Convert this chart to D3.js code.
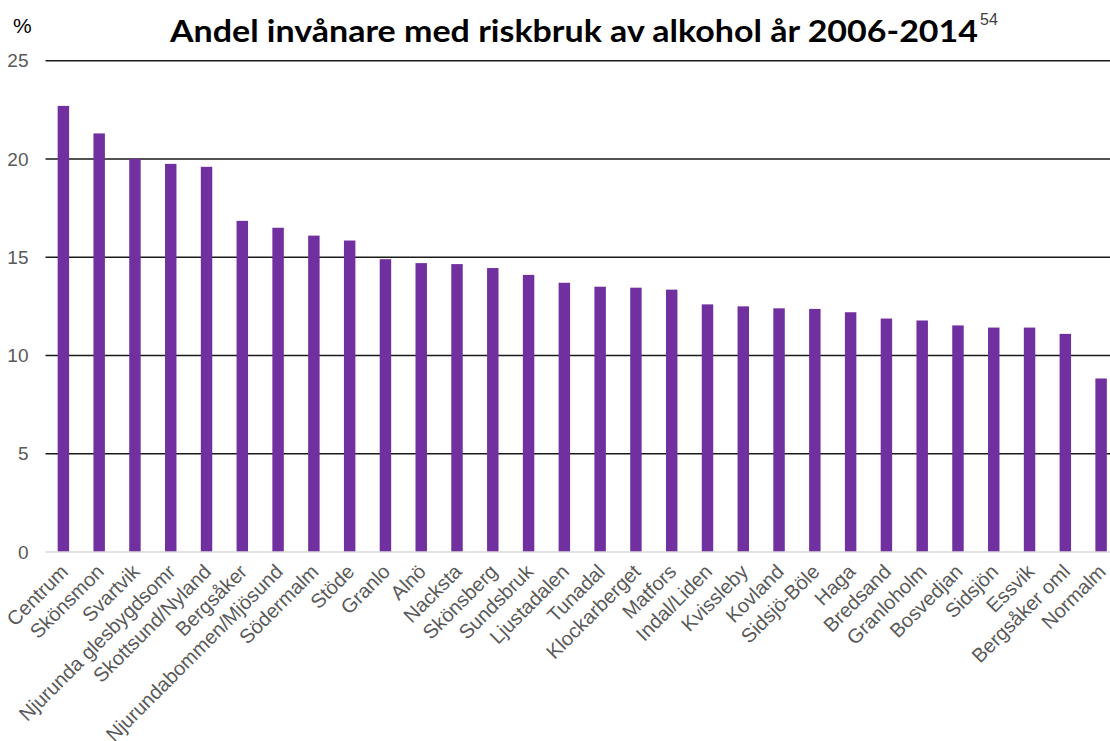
<!DOCTYPE html>
<html>
<head>
<meta charset="utf-8">
<script src="https://cdn.jsdelivr.net/npm/d3@7"></script>
<style>
  body { margin: 0; background: #fff; }
  svg { display: block; }
</style>
</head>
<body>
<div id="chart"></div>
<script>
// Data
const categories = [
  "Centrum", "Skönsmon", "Svartvik", "Njurunda glesbygdsomr", "Skottsund/Nyland",
  "Bergsåker", "Njurundabommen/Mjösund", "Södermalm", "Stöde", "Granlo",
  "Alnö", "Nacksta", "Skönsberg", "Sundsbruk", "Ljustadalen",
  "Tunadal", "Klockarberget", "Matfors", "Indal/Liden", "Kvissleby",
  "Kovland", "Sidsjö-Böle", "Haga", "Bredsand", "Granloholm",
  "Bosvedjan", "Sidsjön", "Essvik", "Bergsåker oml", "Normalm"
];
const values = [
  22.7, 21.3, 20.0, 19.75, 19.6,
  16.85, 16.5, 16.1, 15.85, 14.9,
  14.7, 14.65, 14.45, 14.1, 13.7,
  13.5, 13.45, 13.35, 12.6, 12.5,
  12.4, 12.37, 12.2, 11.88, 11.78,
  11.53, 11.42, 11.42, 11.1, 8.83
];
const yTicks = [0, 5, 10, 15, 20, 25];
const titleText = "Andel invånare med riskbruk av alkohol år 2006-2014";
const footnote = "54";

const width = 1110, height = 741;
const labelFont = "'Liberation Sans', Arial, sans-serif";

const svg = d3.select("#chart").append("svg")
  .attr("width", width)
  .attr("height", height);

// Scales
const x = d3.scaleBand()
  .domain(categories)
  .range([45.5, 1119])
  .paddingInner(0.68)
  .paddingOuter(0.34);

const y = d3.scaleLinear()
  .domain([0, 25])
  .range([552, 60.7]);

// Gridlines
svg.append("g")
  .selectAll("line")
  .data(yTicks.filter(d => d > 0))
  .join("line")
  .attr("x1", 45.5)
  .attr("x2", width)
  .attr("y1", d => y(d))
  .attr("y2", d => y(d))
  .attr("stroke", "#1a1a1a")
  .attr("stroke-width", 1.4);

// Y axis labels
svg.append("g")
  .selectAll("text")
  .data(yTicks)
  .join("text")
  .attr("x", 28.5)
  .attr("y", d => y(d))
  .attr("dy", "0.35em")
  .attr("text-anchor", "end")
  .style("font-family", labelFont)
  .style("font-size", "19px")
  .style("fill", "#595959")
  .text(d => d);

// Bars
svg.append("g")
  .selectAll("rect")
  .data(values)
  .join("rect")
  .attr("x", (d, i) => x(categories[i]))
  .attr("width", x.bandwidth())
  .attr("y", d => y(d))
  .attr("height", d => y(0) - y(d))
  .attr("fill", "#7030a0");

// Baseline
svg.append("line")
  .attr("x1", 45.5)
  .attr("x2", width)
  .attr("y1", y(0))
  .attr("y2", y(0))
  .attr("stroke", "#d9d9d9")
  .attr("stroke-width", 1.4);

// X labels (rotated)
svg.append("g")
  .selectAll("text")
  .data(categories)
  .join("text")
  .attr("transform", d => `translate(${x(d) + x.bandwidth() / 2 + 1},${y(0) + 16}) rotate(-45)`)
  .attr("text-anchor", "end")
  .attr("dy", "0.35em")
  .style("font-family", labelFont)
  .style("font-size", "20px")
  .style("fill", "#595959")
  .text(d => d);

// Unit label
svg.append("text")
  .attr("x", 13)
  .attr("y", 33)
  .style("font-family", labelFont)
  .style("font-size", "21px")
  .style("fill", "#000")
  .text("%");

// Title
const title = svg.append("text")
  .attr("x", 170)
  .attr("y", 42)
  .style("font-family", "Lato, 'Open Sans', sans-serif")
  .style("font-weight", "700")
  .style("font-size", "31px")
  .style("fill", "#000")
  .text(titleText);

const tw = title.node().getComputedTextLength();
if (Math.abs(tw - 808) > 4) {
  title.attr("textLength", 808).attr("lengthAdjust", "spacingAndGlyphs");
}

svg.append("text")
  .attr("x", 980)
  .attr("y", 25)
  .style("font-family", labelFont)
  .style("font-size", "16px")
  .style("fill", "#404040")
  .text(footnote);
</script>
</body>
</html>
